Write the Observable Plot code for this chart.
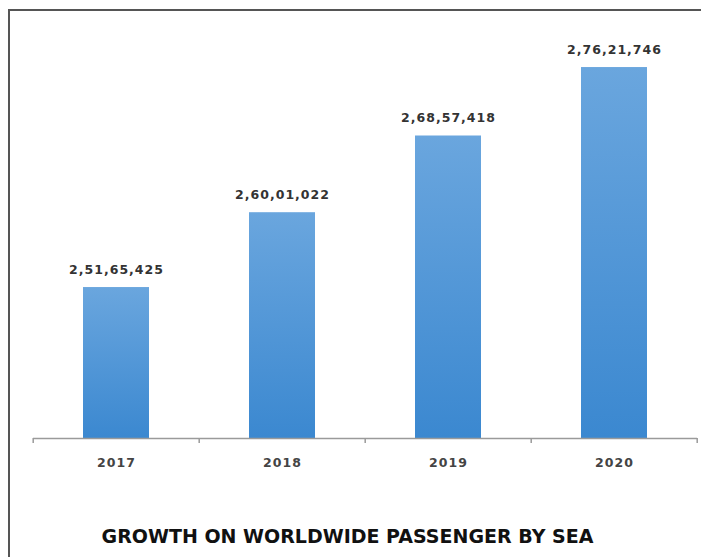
<!DOCTYPE html>
<html>
<head>
<meta charset="utf-8">
<script src="https://cdn.jsdelivr.net/npm/d3@7"></script>
<script src="https://cdn.jsdelivr.net/npm/@observablehq/plot@0.6"></script>
<style>
  html, body { margin: 0; padding: 0; background: #fff; }
  #wrap { position: relative; width: 701px; height: 557px; overflow: hidden; background: #fff; }
  #frame { position: absolute; left: 8px; top: 9px; width: 720px; height: 600px;
           border-left: 2px solid #555; border-top: 2px solid #555; }
  #chart { position: absolute; left: 0; top: 0; }
  #chart text { letter-spacing: 1px; }
  #title { position: absolute; left: -3px; width: 701px; top: 525px; text-align: center;
           font: bold 19px "DejaVu Sans", Verdana, sans-serif; color: #111; white-space: pre; }
</style>
</head>
<body>
<div id="wrap">
  <div id="frame"></div>
  <div id="chart"></div>
  <div id="title">GROWTH ON WORLDWIDE PASSENGER BY SEA</div>
</div>
<script>
// ---- data ----
const years = ["2017", "2018", "2019", "2020"];
const passengers = [25165425, 26001022, 26857418, 27621746];
const yDomain = [23480000, 28147000];

// Indian digit grouping (e.g. 2,51,65,425)
function fmtIN(n) {
  const s = String(n);
  const last3 = s.slice(-3);
  const rest = s.slice(0, -3).replace(/\B(?=(\d{2})+(?!\d))/g, ",");
  return rest ? rest + "," + last3 : last3;
}

const data = years.map((year, i) => ({year, value: passengers[i]}));
const NS = "http://www.w3.org/2000/svg";

const gradientDefs = () => {
  const defs = document.createElementNS(NS, "defs");
  const lg = document.createElementNS(NS, "linearGradient");
  lg.setAttribute("id", "barGrad");
  lg.setAttribute("x1", "0"); lg.setAttribute("y1", "0");
  lg.setAttribute("x2", "0"); lg.setAttribute("y2", "1");
  [["0", "#6aa6de"], ["1", "#3b88d0"]].forEach(([o, c]) => {
    const st = document.createElementNS(NS, "stop");
    st.setAttribute("offset", o); st.setAttribute("stop-color", c);
    lg.appendChild(st);
  });
  defs.appendChild(lg);
  return defs;
};

const PAD_INNER = 0.6, PAD_OUTER = 0.3;

const boundaryTicks = (index, scales) => {
  const g = document.createElementNS(NS, "g");
  const x = scales.x;
  const step = x(years[1]) - x(years[0]);
  const bw = step * (1 - PAD_INNER);
  const y0 = scales.y(yDomain[0]);
  for (let i = 0; i <= years.length; i++) {
    const px = x(years[0]) + bw / 2 - step / 2 + i * step;
    const ln = document.createElementNS(NS, "line");
    ln.setAttribute("x1", px); ln.setAttribute("x2", px);
    ln.setAttribute("y1", y0); ln.setAttribute("y2", y0 + 5);
    ln.setAttribute("stroke", "#9a9a9a");
    ln.setAttribute("stroke-width", "1.5");
    g.appendChild(ln);
  }
  return g;
};

const chart = Plot.plot({
  width: 701,
  height: 490,
  marginLeft: 33,
  marginRight: 4,
  marginTop: 20,
  marginBottom: 52,
  style: {fontFamily: "'DejaVu Sans', Verdana, sans-serif", background: "transparent"},
  x: {domain: years, paddingInner: PAD_INNER, paddingOuter: PAD_OUTER, align: 0.5},
  y: {domain: yDomain, axis: null},
  marks: [
    gradientDefs,
    Plot.barY(data, {x: "year", y1: yDomain[0], y2: "value", fill: "url(#barGrad)"}),
    Plot.ruleY([yDomain[0]], {stroke: "#9a9a9a", strokeWidth: 1.5}),
    boundaryTicks,
    Plot.text(data, {x: "year", y: "value", text: d => fmtIN(d.value), dy: -18,
      fontSize: 12.5, fontWeight: "bold", fill: "#333"}),
    Plot.axisX({tickSize: 0, tickPadding: 20, label: null, fontSize: 12.5,
      fontWeight: "bold", fill: "#444"})
  ]
});
document.getElementById("chart").appendChild(chart);
</script>
</body>
</html>
